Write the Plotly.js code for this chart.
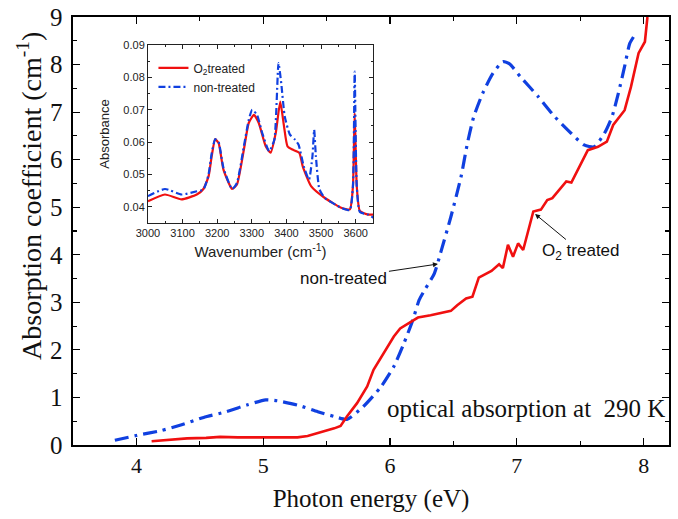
<!DOCTYPE html>
<html>
<head>
<meta charset="utf-8">
<script src="https://cdn.plot.ly/plotly-3.0.1.min.js"></script>
<style>html,body{margin:0;padding:0;background:#fff;}#chart{width:678px;height:519px;}</style>
</head>
<body>
<div id="chart"></div>
<script>
// Main chart: absorption coefficient vs photon energy
const nonTreatedE = [3.83,4.00,4.19,4.35,4.53,4.71,4.87,5.02,5.11,5.27,5.43,5.56,5.66,5.79,5.93,6.03,6.11,6.18,6.23,6.28,6.35,6.40,6.48,6.56,6.61,6.66,6.73,6.81,6.89,6.94,7.03,7.17,7.30,7.43,7.53,7.61,7.69,7.75,7.80,7.85,7.89,7.92];
const nonTreatedA = [0.10,0.20,0.30,0.42,0.58,0.70,0.84,0.95,0.93,0.84,0.70,0.60,0.54,0.81,1.23,1.65,2.14,2.63,3.05,3.29,3.61,4.05,4.80,5.64,6.34,6.90,7.39,7.81,8.06,8.02,7.74,7.32,6.90,6.55,6.31,6.27,6.55,6.90,7.39,7.96,8.44,8.58];

const o2TreatedE = [4.12,4.25,4.40,4.55,4.66,4.80,5.00,5.15,5.27,5.35,5.43,5.50,5.56,5.61,5.66,5.74,5.82,5.87,5.95,6.03,6.08,6.16,6.22,6.32,6.48,6.53,6.60,6.65,6.70,6.80,6.86,6.89,6.93,6.97,7.01,7.05,7.13,7.19,7.24,7.28,7.39,7.43,7.56,7.64,7.71,7.76,7.85,7.90,7.96,8.01,8.03];
const o2TreatedA = [0.08,0.11,0.14,0.15,0.17,0.16,0.16,0.15,0.16,0.19,0.25,0.30,0.35,0.40,0.60,0.88,1.23,1.58,1.93,2.28,2.45,2.59,2.68,2.73,2.82,2.94,3.08,3.12,3.52,3.66,3.80,3.72,4.21,3.96,4.24,4.10,4.91,4.95,5.15,5.19,5.54,5.52,6.20,6.27,6.38,6.73,7.04,7.53,8.24,8.48,9.00];

// Inset: absorbance vs wavenumber
const o2Wn = [3000,3049,3097,3141,3160,3175,3184,3194,3204,3218,3243,3257,3277,3291,3306,3320,3340,3354,3369,3382,3393,3403,3417,3437,3447,3471,3510,3558,3583,3592,3597,3603,3612,3636,3655];
const o2Abs = [0.0417,0.0438,0.0423,0.0438,0.0455,0.0494,0.0556,0.0609,0.0597,0.0515,0.0455,0.0469,0.0577,0.0659,0.0684,0.0659,0.0587,0.0567,0.0628,0.0725,0.0648,0.0587,0.0577,0.0567,0.0525,0.0464,0.0428,0.0397,0.0392,0.0464,0.0690,0.0464,0.0387,0.0376,0.0376];
const ntWn = [3000,3049,3097,3141,3160,3175,3184,3194,3204,3218,3243,3257,3277,3291,3301,3315,3330,3350,3365,3377,3385,3395,3410,3425,3435,3450,3465,3475,3480,3485,3495,3510,3558,3583,3592,3597,3603,3612,3636,3655];
const ntAbs = [0.0433,0.0455,0.0438,0.0448,0.0453,0.0500,0.0565,0.0609,0.0600,0.0520,0.0455,0.0474,0.0587,0.0668,0.0700,0.0684,0.0628,0.0572,0.0607,0.0844,0.0781,0.0679,0.0623,0.0607,0.0592,0.0525,0.0484,0.0556,0.0638,0.0556,0.0455,0.0428,0.0397,0.0390,0.0464,0.0818,0.0464,0.0384,0.0376,0.0364];

const RED = '#f01010', BLUE = '#1040e0';
const SERIF = 'Liberation Serif, Times New Roman, serif';
const SANS = 'Liberation Sans, Arial, sans-serif';

const traces = [
  {x: nonTreatedE, y: nonTreatedA, mode:'lines', line:{color:BLUE, width:3.2, dash:'14px,6px,3px,6px', shape:'spline', smoothing:0.6}, showlegend:false, xaxis:'x', yaxis:'y'},
  {x: o2TreatedE, y: o2TreatedA, mode:'lines', line:{color:RED, width:2.6}, showlegend:false, xaxis:'x', yaxis:'y'},
  {x: o2Wn, y: o2Abs, name:'O<sub>2</sub>treated', mode:'lines', line:{color:RED, width:2.2, shape:'spline', smoothing:0.5}, xaxis:'x2', yaxis:'y2'},
  {x: ntWn, y: ntAbs, name:'non-treated', mode:'lines', line:{color:BLUE, width:2.2, dash:'7px,3px,2px,3px', shape:'spline', smoothing:0.5}, xaxis:'x2', yaxis:'y2'}
];

const layout = {
  width:678, height:519,
  margin:{l:73, r:9, t:17, b:74},
  paper_bgcolor:'#fff', plot_bgcolor:'#fff',
  showlegend:true,
  legend:{x:0.135, y:0.915, xanchor:'left', yanchor:'top', bgcolor:'rgba(0,0,0,0)', font:{family:SANS, size:12, color:'#222'}, tracegroupgap:0, itemwidth:30},
  xaxis:{domain:[0,1], range:[3.5,8.2], tickvals:[4,5,6,7,8], showline:true, linecolor:'#000', linewidth:1.6, mirror:'ticks', ticks:'inside', ticklen:7, tickwidth:1.2, tickcolor:'#000', minor:{dtick:0.5, ticks:'inside', ticklen:4, tickcolor:'#000'}, showgrid:false, zeroline:false, tickfont:{family:SERIF, size:22, color:'#111'},
    title:{text:'Photon energy (eV)', font:{family:SERIF, size:25, color:'#111'}, standoff:12}},
  yaxis:{domain:[0,1], range:[0,9], dtick:1, showline:true, linecolor:'#000', linewidth:1.6, mirror:'ticks', ticks:'inside', ticklen:7, tickwidth:1.2, tickcolor:'#000', minor:{dtick:0.5, ticks:'inside', ticklen:4, tickcolor:'#000'}, showgrid:false, zeroline:false, ticklabelstandoff:4, tickfont:{family:SERIF, size:25, color:'#111'}},
  xaxis2:{domain:[0.1258,0.5034], anchor:'y2', range:[3000,3650], dtick:100, showline:true, linecolor:'#222', linewidth:1, mirror:'ticks', ticks:'inside', ticklen:4, tickcolor:'#222', minor:{dtick:50, ticks:'inside', ticklen:2, tickcolor:'#222'}, showgrid:false, zeroline:false, tickfont:{family:SANS, size:11, color:'#222'},
    title:{text:'Wavenumber (cm<sup>-1</sup>)', font:{family:SANS, size:15, color:'#222'}, standoff:8}},
  yaxis2:{domain:[0.5187,0.9346], anchor:'x2', range:[0.035,0.09], dtick:0.01, tickformat:'.2f', showline:true, linecolor:'#222', linewidth:1, mirror:'ticks', ticks:'inside', ticklen:4, tickcolor:'#222', minor:{dtick:0.005, ticks:'inside', ticklen:2, tickcolor:'#222'}, showgrid:false, zeroline:false, tickfont:{family:SANS, size:11, color:'#222'},
    title:{text:'Absorbance', font:{family:SANS, size:13, color:'#222'}, standoff:10}},
  annotations:[
    {x:-0.072, y:0.582, xref:'paper', yref:'paper', xanchor:'center', yanchor:'middle', textangle:-90, text:'Absorption coefficient (cm<sup>-1</sup>)', showarrow:false, font:{family:SERIF, size:28, color:'#111'}},
    {x:6.378, y:3.806, xref:'x', yref:'y', text:'non-treated', showarrow:true, ax:-94, ay:14, arrowhead:2, arrowsize:1, arrowwidth:1, arrowcolor:'#111', font:{family:SANS, size:17, color:'#111'}},
    {x:7.144, y:4.857, xref:'x', yref:'y', text:'O<sub>2</sub> treated', showarrow:true, ax:46, ay:38, arrowhead:2, arrowsize:1, arrowwidth:1, arrowcolor:'#111', font:{family:SANS, size:17, color:'#111'}},
    {x:0.997, y:0.085, xref:'paper', yref:'paper', xanchor:'right', yanchor:'middle', text:'optical absorption at  290 K', showarrow:false, font:{family:SERIF, size:25, color:'#111'}}
  ]
};

Plotly.newPlot('chart', traces, layout, {displayModeBar:false, staticPlot:true});
</script>
</body>
</html>
